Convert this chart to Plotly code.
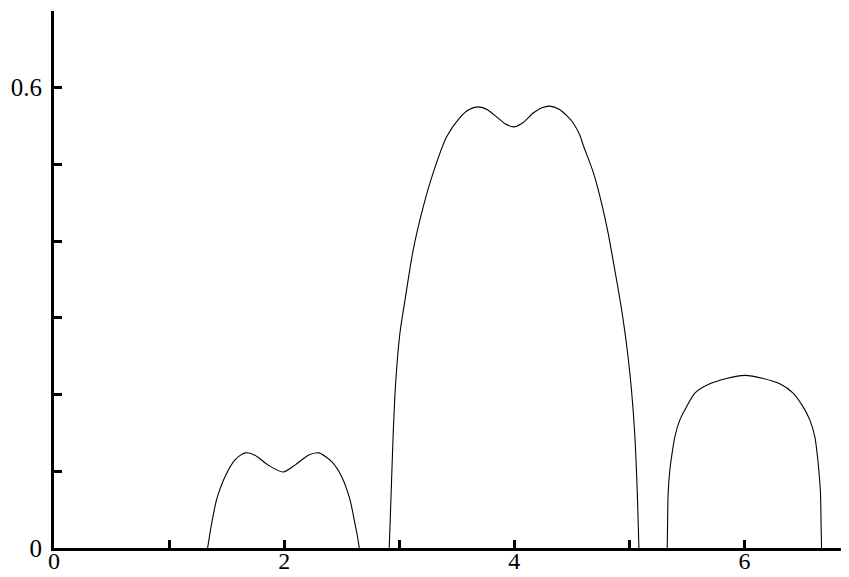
import plotly.graph_objects as go

# Curve 1 (around x=2)
x1 = [1.335, 1.352, 1.370, 1.413, 1.486, 1.573, 1.659, 1.746, 1.862, 1.992,
      2.094, 2.210, 2.302, 2.413, 2.500, 2.572, 2.615, 2.636, 2.653]
y1 = [0.0, 0.016, 0.032, 0.063, 0.093, 0.115, 0.124, 0.121, 0.108, 0.099,
      0.108, 0.121, 0.124, 0.1125, 0.093, 0.063, 0.032, 0.016, 0.0]

# Curve 2 (around x=4)
x2 = [2.913, 2.928, 2.948, 2.969, 3.006, 3.050, 3.122, 3.209, 3.295, 3.412,
      3.527, 3.600, 3.686, 3.770, 3.846, 3.920, 4.000, 4.080, 4.164, 4.240,
      4.309, 4.390, 4.454, 4.512, 4.570, 4.599, 4.686, 4.758, 4.816, 4.874,
      4.925, 4.958, 4.988, 5.019, 5.048, 5.071, 5.083]
y2 = [0.0, 0.063, 0.150, 0.215, 0.280, 0.323, 0.389, 0.445, 0.489, 0.536,
      0.561, 0.571, 0.575, 0.571, 0.562, 0.553, 0.549, 0.555, 0.567, 0.574,
      0.576, 0.572, 0.564, 0.554, 0.538, 0.525, 0.490, 0.450, 0.410, 0.362,
      0.318, 0.285, 0.250, 0.205, 0.145, 0.063, 0.0]

# Curve 3 (around x=6)
x3 = [5.329, 5.332, 5.337, 5.352, 5.367, 5.395, 5.439, 5.497, 5.569, 5.699,
      5.844, 6.003, 6.163, 6.307, 6.423, 6.510, 6.568, 6.612, 6.635, 6.646,
      6.661, 6.666, 6.670]
y3 = [0.0, 0.032, 0.071, 0.102, 0.119, 0.145, 0.167, 0.184, 0.202, 0.214,
      0.221, 0.225, 0.221, 0.214, 0.202, 0.184, 0.167, 0.145, 0.119, 0.102,
      0.071, 0.032, 0.0]

x_tickvals = [0, 1, 2, 3, 4, 5, 6]
x_ticktext = ["0", "", "2", "", "4", "", "6"]
y_tickvals = [0, 0.1, 0.2, 0.3, 0.4, 0.5, 0.6]
y_ticktext = ["0", "", "", "", "", "", "0.6"]

fig = go.Figure()
for xs, ys in [(x1, y1), (x2, y2), (x3, y3)]:
    fig.add_trace(go.Scatter(x=xs, y=ys, mode="lines",
                             line=dict(color="black", width=1.1, shape="spline", smoothing=0.7),
                             showlegend=False, hoverinfo="skip", cliponaxis=False))

axis_common = dict(showline=True, linewidth=3, linecolor="black", ticks="inside",
                   ticklen=8, tickwidth=2.5, tickcolor="black", showgrid=False,
                   zeroline=False, automargin=False)

fig.update_layout(
    width=841, height=569,
    margin=dict(l=46, r=1, t=3, b=29),
    plot_bgcolor="white", paper_bgcolor="white",
    xaxis=dict(range=[0, 6.9], tickmode="array", tickvals=x_tickvals, ticktext=x_ticktext,
               ticklabelstandoff=-11,
               tickfont=dict(family="Liberation Serif", size=24, color="black"), **axis_common),
    yaxis=dict(range=[0, 0.7], tickmode="array", tickvals=y_tickvals, ticktext=y_ticktext,
               ticklabelstandoff=4,
               tickfont=dict(family="Liberation Serif", size=25, color="black"), **axis_common),
)

fig.write_html("out.html")
